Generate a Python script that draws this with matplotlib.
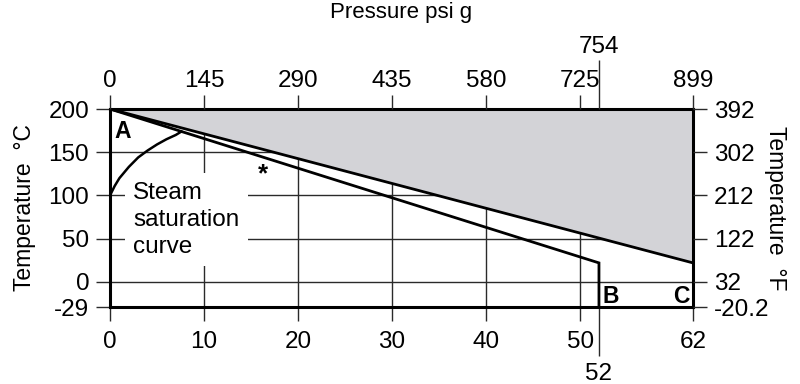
import matplotlib
matplotlib.use("Agg")
import matplotlib.pyplot as plt

plt.rcParams['font.family'] = ['Liberation Sans', 'DejaVu Sans']

# Data
bar_ticks = [0, 10, 20, 30, 40, 50, 62]
psi_labels = ['0', '145', '290', '435', '580', '725', '899']
extra_bar = 52
extra_psi = '754'
c_ticks = [200, 150, 100, 50, 0, -29]
f_labels = ['392', '302', '212', '122', '32', '-20.2']

upper_x = [0, 62]
upper_y = [200, 22]
lower_x = [0, 52, 52]
lower_y = [200, 22, -29]

sat_p = [0, 0.5, 1, 2, 3, 4, 5, 6, 7, 7.6]
sat_t = [100, 111, 120, 133, 144, 152, 159, 165, 170, 174]

FS = 17.5
fig = plt.figure(figsize=(8, 3.84), dpi=100)
ax = fig.add_axes([110/800, 1-307/384, (693-110)/800, (307-109)/384])
ax.set_xlim(0, 62)
ax.set_ylim(-29, 200)

gridc = '#2a2a2a'
# grid lines
for xv in bar_ticks[1:-1]:
    ax.axvline(xv, color=gridc, lw=1.0, zorder=1)
for yv in c_ticks[1:-1]:
    ax.axhline(yv, color=gridc, lw=1.0, zorder=1)

# shaded region
ax.fill_between(upper_x, upper_y, [200, 200], color='#d3d3d7', zorder=2, lw=0)
ax.plot(upper_x, upper_y, color='black', lw=2.0, zorder=4, solid_capstyle='butt')
ax.plot(lower_x, lower_y, color='black', lw=2.0, zorder=4, solid_joinstyle='miter')
ax.plot(sat_p, sat_t, color='black', lw=1.8, zorder=5)

ax.text(2.45, 72, 'Steam\nsaturation\ncurve', fontsize=FS, ha='left', va='center',
        linespacing=1.3, zorder=3,
        bbox=dict(facecolor='white', edgecolor='none', pad=6))
ax.text(16.3, 124, '*', fontsize=FS+1, ha='center', va='center', fontweight='bold', zorder=6)
ax.text(0.5, 174, 'A', fontsize=FS-1, fontweight='bold', ha='left', va='center', zorder=6)
ax.text(52.4, -17, 'B', fontsize=FS-1, fontweight='bold', ha='left', va='center', zorder=6)
ax.text(61.6, -17, 'C', fontsize=FS-1, fontweight='bold', ha='right', va='center', zorder=6)

for s in ax.spines.values():
    s.set_linewidth(2.2)
    s.set_zorder(7)

# bottom axis
ax.set_xticks(bar_ticks)
ax.set_xticklabels([str(v) for v in bar_ticks])
ax.set_xticks([extra_bar], minor=True)
ax.set_xticklabels([str(extra_bar)], minor=True)
ax.set_yticks(c_ticks)
ax.set_yticklabels([str(v) for v in c_ticks])
ax.tick_params(axis='x', which='major', length=10, width=1.0, color=gridc,
               labelsize=FS, direction='out', pad=7)
ax.tick_params(axis='y', which='major', length=10, width=1.0, color=gridc,
               labelsize=FS, direction='out', pad=5)
ax.tick_params(axis='x', which='minor', length=35, width=1.0, color=gridc,
               labelsize=FS, direction='out', pad=5)
ax.tick_params(axis='y', which='minor', left=False)
ax.set_ylabel('Temperature  °C', fontsize=FS - 1, labelpad=9)

# top axis
axt = ax.twiny()
axt.set_xlim(0, 62)
top_pos = [int(p) / 14.5 for p in psi_labels]
axt.set_xticks(top_pos)
axt.set_xticklabels(psi_labels)
axt.set_xticks([int(extra_psi) / 14.5], minor=True)
axt.set_xticklabels([extra_psi], minor=True)
axt.tick_params(axis='x', which='major', length=10, width=1.0, color=gridc,
                labelsize=FS, pad=2)
axt.tick_params(axis='x', which='minor', length=35, width=1.0, color=gridc,
                labelsize=FS, pad=2)
for s in axt.spines.values():
    s.set_visible(False)
fig.text(401/800, 1 - 2/384, 'Pressure psi g', fontsize=FS - 1.5,
         ha='center', va='top')

# right axis
axr = ax.twinx()
axr.set_ylim(-29, 200)
axr.set_yticks(c_ticks)
axr.set_yticklabels(f_labels)
axr.tick_params(axis='y', which='major', length=10, width=1.0, color=gridc,
                labelsize=FS, pad=5)
axr.set_ylabel('Temperature  °F', fontsize=FS - 1, rotation=270, labelpad=13)
for s in axr.spines.values():
    s.set_visible(False)

fig.savefig('out.png', dpi=100)
